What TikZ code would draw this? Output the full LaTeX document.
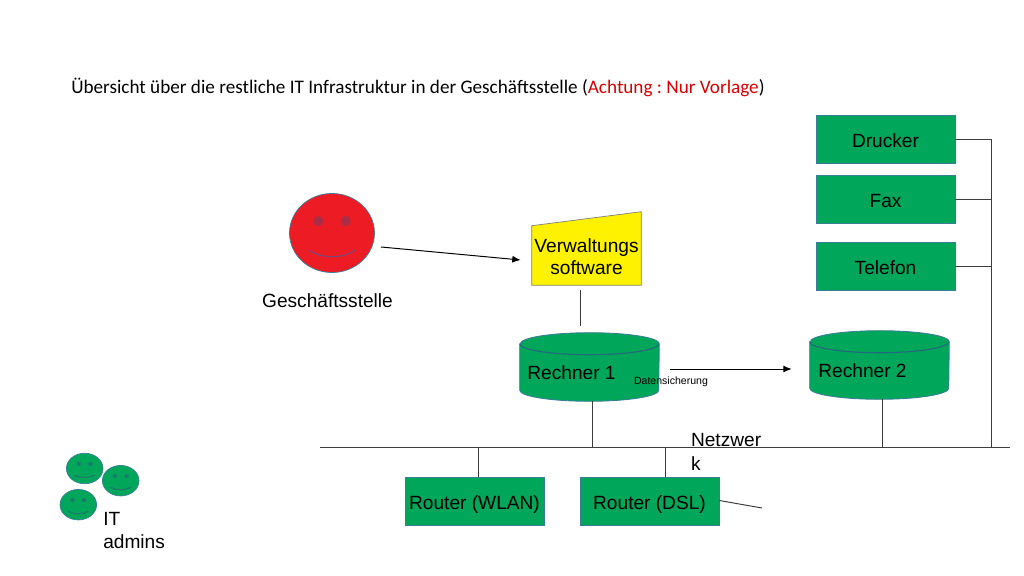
\documentclass[tikz,border=0pt]{standalone}
\usepackage{fontspec}
\setmainfont{Liberation Sans}
\newfontfamily\titlefont{Carlito}
\usetikzlibrary{arrows.meta, calc}
\definecolor{boxgreen}{RGB}{0,166,90}
\definecolor{boxedge}{RGB}{58,125,150}
\definecolor{drumedge}{RGB}{35,105,125}
\definecolor{facered}{RGB}{237,28,36}
\definecolor{eyered}{RGB}{170,45,70}
\definecolor{smilered}{RGB}{125,70,120}
\definecolor{eyegreen}{RGB}{30,120,105}
\definecolor{softyellow}{RGB}{255,242,0}
\definecolor{wire}{RGB}{60,60,60}
\newcommand*{\px}{0.025cm}
\newcommand*{\drum}[1]{
    \draw[draw=boxedge, fill=boxgreen, line width=0.6pt] ($(#1.north west)+(0,11)$) -- ($(#1.south west)+(0,-11)$) arc [start angle=180, end angle=0, x radius=69.5, y radius=11] -- ($(#1.north east)+(0,11)$) arc [start angle=0, end angle=-180, x radius=69.5, y radius=11] -- cycle;
    \draw[draw=drumedge, line width=0.8pt] ($(#1.north west)+(0,11)$) arc [start angle=180, end angle=0, x radius=69.5, y radius=11];
}
\tikzset{
    box/.style={rectangle, draw=boxedge, fill=boxgreen, line width=0.5pt, minimum width=139*\px, minimum height=48*\px, inner sep=0pt, text height=12pt, text depth=0.6pt, font=\fontsize{13.6}{16}\selectfont},
    disk/.style={rectangle, minimum width=139*\px, minimum height=68*\px, inner sep=0pt},
    caption/.style={inner sep=0pt, font=\fontsize{13.6}{16}\selectfont},
    wire/.style={draw=wire, line width=0.7pt},
    flow/.style={draw=black, line width=0.7pt, -{Latex[length=6pt, width=5pt]}},
    pics/smiley/.style n args={3}{code={
        \draw[draw=boxedge, fill=#1, line width=0.5pt] (0,0) circle [x radius=1, y radius=0.93];
        \fill[#2] (-0.32,-0.28) circle [radius=0.12] (0.32,-0.28) circle [radius=0.12];
        \draw[#3, line width=0.8pt] (-0.55,0.4) .. controls (-0.25,0.61) and (0.25,0.61) .. (0.55,0.4);
    }}
}
\begin{document}
\begin{tikzpicture}[x=\px, y=-\px]
    \frenchspacing
    \useasboundingbox (0,0) rectangle (1024,576);
    \node[anchor=west, inner sep=0pt, font=\titlefont\fontsize{13.64}{16}\selectfont] (title) at (71,87.5) {Übersicht über die restliche IT Infrastruktur in der Geschäftsstelle (\textcolor{red!85!black}{Achtung : Nur Vorlage})};
    % devices on the right
    \node[box] (drucker) at (885.5,139) {Drucker};
    \node[box] (fax) at (885.5,199.5) {Fax};
    \node[box] (telefon) at (885.5,266) {Telefon};
    % office
    \path (332,233) pic[x=42.5*\px, y=-42.5*\px] {smiley={facered}{eyered}{smilered}};
    \coordinate (face) at (332,233);
    \node[caption] (office) at (327.5,301) {Geschäftsstelle};
    \node[inner sep=0pt, minimum width=109*\px, minimum height=73*\px] (soft) at (586.5,248.5) {};
    \draw[draw=gray, fill=softyellow, line width=0.5pt] (soft.south west) -- (soft.south east) -- (soft.north east) -- ($(soft.north west)+(0,14)$) -- cycle;
    \node[caption, align=center, font=\fontsize{13.6}{15.9}\selectfont] (softlabel) at (586.5,256.5) {Verwaltungs\\software};
    % computers
    \node[disk] (rechner1) at (589.5,367) {};
    \drum{rechner1}
    \node[caption] (rechner1label) at (571.5,372.5) {Rechner 1};
    \node[disk] (rechner2) at (879.5,365) {};
    \drum{rechner2}
    \node[caption] (rechner2label) at (862.5,370.5) {Rechner 2};
    \node[inner sep=0pt, font=\fontsize{7.5}{9}\selectfont] (backup) at (671,382) {Datensicherung};
    % routers
    \node[box] (wlan) at (474.5,501.5) {Router (WLAN)};
    \node[box] (dsl) at (649.5,501.5) {Router (DSL)};
    \node[caption, align=left, text width=72*\px, font=\fontsize{13.6}{16.5}\selectfont] (netz) at (727,452) {Netzwer\\k};
    % admins
    \path (84.7,468.5) pic[x=18.3*\px, y=-16.4*\px] {smiley={boxgreen}{eyegreen}{eyegreen}};
    \path (120.7,480.7) pic[x=18.3*\px, y=-16.4*\px] {smiley={boxgreen}{eyegreen}{eyegreen}};
    \path (78.3,504.7) pic[x=18.3*\px, y=-16.4*\px] {smiley={boxgreen}{eyegreen}{eyegreen}};
    \node[caption, align=left, anchor=north west, font=\fontsize{13.6}{16.5}\selectfont] (admins) at (103,512) {IT\\admins};
    % network
    \coordinate (busleft) at (320,447);
    \coordinate (busright) at (1010,447);
    \coordinate (riser) at (991.5,447);
    \coordinate (dslend) at (762,508);
    \draw[wire] (busleft) -- (busright);
    \draw[wire] (drucker.east) -| (riser);
    \draw[wire] (fax.east) -- (fax.east -| riser);
    \draw[wire] (telefon.east) -- (telefon.east -| riser);
    \draw[wire] ([xshift=3*\px]rechner1.south) -- ([xshift=3*\px]rechner1.south |- busleft);
    \draw[wire] ([xshift=3*\px]rechner2.south) -- ([xshift=3*\px]rechner2.south |- busleft);
    \draw[wire] ([xshift=3.5*\px]wlan.north) -- ([xshift=3.5*\px]wlan.north |- busleft);
    \draw[wire] ([xshift=15.5*\px]dsl.north) -- ([xshift=15.5*\px]dsl.north |- busleft);
    \draw[wire] ([yshift=1*\px]dsl.east) -- (dslend);
    \draw[wire] ([xshift=-6*\px, yshift=-5*\px]soft.south) -- ([xshift=-9*\px, yshift=7*\px]rechner1.north);
    \draw[flow] ($(face)+(49,14)$) -- ([xshift=-11*\px, yshift=-11.5*\px]soft.west);
    \draw[flow] ([xshift=11*\px, yshift=-2*\px]rechner1.east) -- ([xshift=-18*\px, yshift=-4*\px]rechner2.west);
\end{tikzpicture}
\end{document}
